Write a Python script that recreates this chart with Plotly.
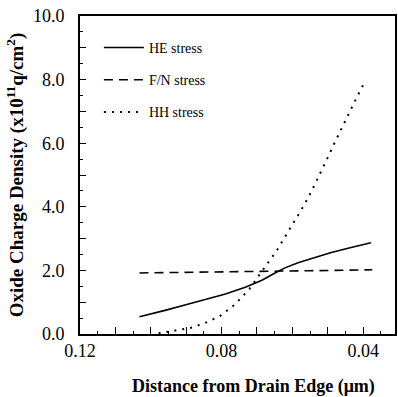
import plotly.graph_objects as go

# Distance from drain edge (um) and oxide charge density (x10^11 q/cm^2)
he_x = [0.1032, 0.1009, 0.0957, 0.0901, 0.0845, 0.0789, 0.0733, 0.0686,
        0.0649, 0.0621, 0.0584, 0.0537, 0.0490, 0.0434, 0.0378]
he_y = [0.54, 0.60, 0.75, 0.92, 1.09, 1.26, 1.47, 1.69,
        1.92, 2.08, 2.24, 2.40, 2.56, 2.72, 2.87]

fn_x = [0.1032, 0.0850, 0.0700, 0.0550, 0.0374]
fn_y = [1.92, 1.94, 1.96, 1.99, 2.02]

hh_x = [0.0978, 0.0929, 0.0888, 0.0846, 0.0805, 0.0762, 0.0721, 0.0676,
        0.0646, 0.0620, 0.0594, 0.0568, 0.0545, 0.0524, 0.0503, 0.0482,
        0.0462, 0.0441, 0.0420, 0.0397]
hh_y = [0.02, 0.11, 0.19, 0.35, 0.56, 0.93, 1.42, 2.13,
        2.59, 3.07, 3.56, 4.03, 4.51, 5.02, 5.48, 5.98,
        6.45, 6.93, 7.40, 7.89]

# Labelled ticks, unlabelled full-length ticks, and short half-step ticks
x_label_vals = [0.12, 0.08, 0.04]
x_label_text = ["0.12", "0.08", "0.04"]
x_step_vals = [0.11, 0.10, 0.09, 0.07, 0.06, 0.05]
x_half_vals = [0.115, 0.105, 0.095, 0.085, 0.075, 0.065, 0.055, 0.045, 0.035]

y_label_vals = [0, 2, 4, 6, 8, 10]
y_label_text = ["0.0", "2.0", "4.0", "6.0", "8.0", "10.0"]
y_step_vals = [1, 3, 5, 7, 9]
y_half_vals = [0.5, 1.5, 2.5, 3.5, 4.5, 5.5, 6.5, 7.5, 8.5, 9.5]

x_range = [0.12, 0.031]
y_range = [0, 10]

serif = "Liberation Serif"

fig = go.Figure()
fig.add_trace(go.Scatter(x=he_x, y=he_y, mode="lines", name="HE stress",
                         legendgroup="a",
                         line=dict(color="black", width=1.6)))
fig.add_trace(go.Scatter(x=fn_x, y=fn_y, mode="lines", name="F/N stress",
                         legendgroup="b",
                         line=dict(color="black", width=1.6, dash="9px,6px")))
fig.add_trace(go.Scatter(x=hh_x, y=hh_y, mode="lines", name="HH stress",
                         legendgroup="c",
                         line=dict(color="black", width=2, dash="2px,6px")))

tick_style = dict(ticks="inside", tickwidth=1.2, tickcolor="black")

fig.update_layout(
    width=398, height=397,
    margin=dict(l=80, r=1, t=16, b=63),
    paper_bgcolor="white", plot_bgcolor="white",
    font=dict(family=serif, color="black", size=15),
    showlegend=True,
    legend=dict(x=0.06, y=0.95, xanchor="left", yanchor="top",
                bgcolor="rgba(0,0,0,0)", font=dict(size=14, family=serif),
                tracegroupgap=11, itemwidth=40),
    xaxis=dict(
        range=x_range, autorange=False,
        tickvals=x_label_vals, ticktext=x_label_text, ticklen=7,
        minor=dict(tickvals=x_step_vals, ticklen=7, **tick_style),
        showline=True, linecolor="black", linewidth=1.6, mirror=True,
        showgrid=False, zeroline=False,
        tickfont=dict(size=18, family=serif),
        **tick_style,
    ),
    xaxis2=dict(
        overlaying="x", anchor="y", side="bottom",
        range=x_range, autorange=False,
        tickvals=x_half_vals, ticklen=3, showticklabels=False,
        showline=False, showgrid=False, zeroline=False,
        **tick_style,
    ),
    yaxis=dict(
        range=y_range, autorange=False,
        tickvals=y_label_vals, ticktext=y_label_text, ticklen=6,
        minor=dict(tickvals=y_step_vals, ticklen=6, **tick_style),
        showline=True, linecolor="black", linewidth=2, mirror=True,
        showgrid=False, zeroline=False,
        ticklabelstandoff=10,
        tickfont=dict(size=18, family=serif),
        title=dict(text="<b>Oxide Charge Density (x10<sup>11</sup>q/cm<sup>2</sup>)</b>",
                   font=dict(size=19, family=serif), standoff=4),
        **tick_style,
    ),
    yaxis2=dict(
        overlaying="y", anchor="x", side="left",
        range=y_range, autorange=False,
        tickvals=y_half_vals, ticklen=3, showticklabels=False,
        showline=False, showgrid=False, zeroline=False,
        **tick_style,
    ),
)

# invisible helper trace so the half-step tick axes are drawn
fig.add_trace(go.Scatter(x=[None], y=[None], xaxis="x2", yaxis="y2",
                         showlegend=False, hoverinfo="skip"))

fig.add_annotation(
    text="<b>Distance from Drain Edge (\u03bcm)</b>",
    xref="paper", yref="paper", x=0.55, y=-0.165,
    xanchor="center", yanchor="middle", showarrow=False,
    font=dict(size=18, family=serif),
)

fig.write_html("out.html")
